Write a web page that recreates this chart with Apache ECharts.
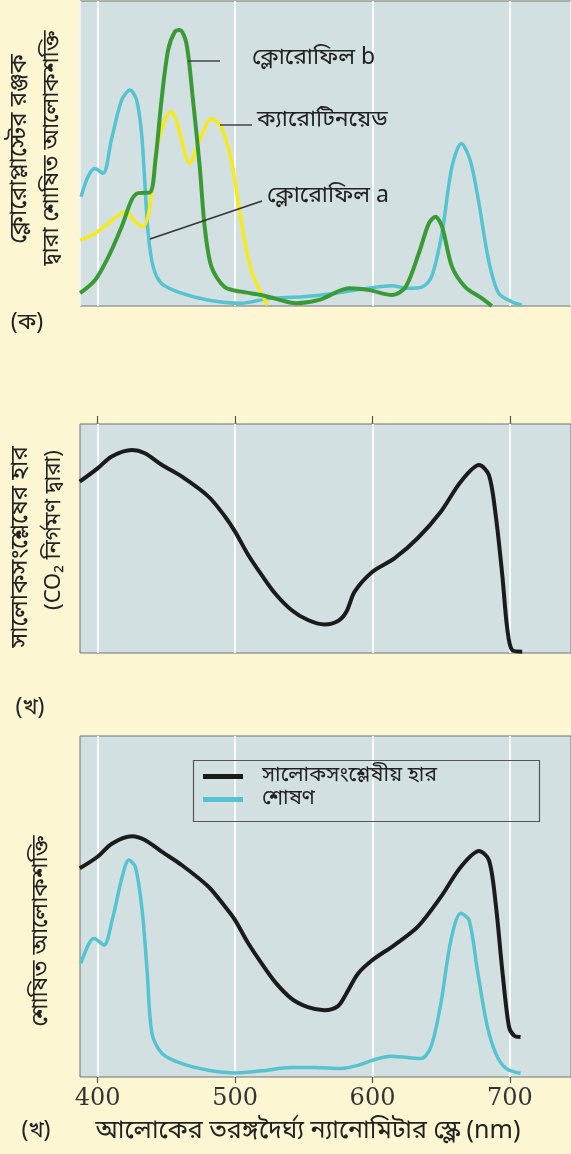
<!DOCTYPE html>
<html><head><meta charset="utf-8">
<script src="https://cdn.jsdelivr.net/npm/echarts@6/dist/echarts.min.js"></script>
<style>html,body{margin:0;padding:0;background:#fdf6d3;}#c{width:571px;height:1154px;}</style>
</head><body><div id="c"></div>
<script>
// ---- data (wavelength nm, relative value 0-100) ----
const xTicks = [400, 500, 600, 700];
const chlAWave = [388,393,398,404,410,417.5,423.6,428.4,432,434.4,436.8,440.4,446.5,461,480,504,525,549,573,597,614,626,636,643,650.5,657.8,664.6,671,677,684.4,691.7,701.3,708.6];
const chlAVal  = [35.8,42.4,45.1,43.5,54.4,67.5,70.8,67.5,56.6,40.2,23.8,12.9,7.4,4.2,2.0,0.9,2.5,3.0,4.2,5.8,6.6,5.8,6.2,9.6,23.8,45.7,53.3,47.9,34.8,15.1,4.2,1.4,0.3];
const chlBWave = [387.3,398.2,407.9,417.5,424.8,429.6,438,442.1,446.5,451.3,456.2,459.8,464.6,469.4,474.3,477.9,482.8,492.4,504.5,519,528.6,544.3,561.2,583,597.5,614.3,624,633.7,641,645.8,650.6,657.8,667.5,679.6,686.8];
const chlBVal  = [4.2,8.5,16.2,26.0,34.8,37.0,37.2,47.9,67.5,83.9,89.9,90.5,86.1,67.5,45.7,26.0,12.9,6.2,4.7,3.6,2.5,0.9,2.0,5.8,5.2,3.6,6.2,17.3,27.1,29.3,26.0,12.9,6.2,2.5,0];
const carWave  = [387.3,398.2,407.9,415.1,421.2,427.2,433.2,438,442.9,448.9,453.7,458.6,467,474.3,482.8,490,497.2,502,506.9,511.7,517.8,523.8];
const carVal   = [21.6,23.8,27.1,29.8,30.9,27.6,26.0,32.6,51.1,61.0,63.7,58.8,46.8,54.4,61.5,58.8,47.9,34.8,21.6,11.8,5.2,0.3];
const rateWave = [387,400,410,425,434.4,446.9,461.4,480.7,492.8,500,509.6,519.3,529,541,553,565,574.9,581,587,600,615.9,632.8,649.7,664.2,677.5,684.7,689.6,694.4,698,701.6,708.9];
const rateVal  = [74.8,80.6,85.7,88.6,87.2,82.1,77.0,68.3,59.5,53.0,42.8,34.1,26.1,18.8,14.4,12.5,14.0,18.0,26.8,35.5,41.3,50.1,61.7,74.8,82.1,77.7,60.3,34.1,10.8,1.3,0.6];
const rate3Wave = [387,400,410.6,425,434.4,446.9,461.4,480.7,492.8,500,509.6,519.3,529,541,553,565,574.9,581,589.4,600,615.9,632.8,649.7,664.2,677.5,684.7,689.6,694.4,699.3,702.9,707.7];
const rate3Val  = [61.2,64.6,68.5,70.6,69.5,66.0,62.1,55.8,49.9,46.0,39.2,33.3,27.9,23.0,20.5,19.6,20.8,24.5,30.3,34.3,38.7,44.0,52.8,61.6,66.3,63.6,50.9,31.3,14.7,12.2,11.7];
const absWave = [387.7,393.8,397.4,404.6,410.6,417.9,422.7,427.5,432.4,436,439.6,446.9,461.4,480.7,500,519.3,541,557.9,577.3,589.4,601.5,613.5,625.6,635.3,642.5,649.7,657,664.2,670.3,676.3,683.6,690.8,698,707.7];
const absVal  = [33.3,39.2,40.6,38.7,46.0,58.7,63.6,61.6,48.9,31.3,12.7,6.9,3.9,2.0,1.2,1.8,2.8,2.8,2.5,3.4,5.1,6.1,5.7,5.4,8.8,21.5,40.1,48.0,46.0,31.3,14.7,5.9,2.3,1.1];

const zip = (a, b) => a.map((x, i) => [x, b[i]]);
const BN = "'Noto Sans Bengali','Lohit Bengali','Noto Serif Bengali','Noto Sans',sans-serif";
const SERIF = "'DejaVu Serif',serif";
const XMIN = 387.2, XMAX = 744.4;

function xAx(idx, opts) {
  return Object.assign({
    type: 'value', gridIndex: idx, min: XMIN, max: XMAX,
    axisLine: {show: false, onZero: false},
    axisTick: {show: false},
    axisLabel: {show: false},
    splitLine: {show: true, lineStyle: {color: 'rgba(255,255,255,0.85)', width: 2}}
  }, opts);
}
function yAx(idx) {
  return {type: 'value', gridIndex: idx, min: 0, max: 100, show: true,
    axisLine: {show: false}, axisTick: {show: false}, axisLabel: {show: false}, splitLine: {show: false}};
}
const gridStyle = {show: true, backgroundColor: '#d3e0e2', borderColor: '#6e7476', borderWidth: 1, containLabel: false};
const CYAN = '#56c3d1', GREEN = '#3a9a36', YELLOW = '#f6ea1c', BLACK = '#1b1b1b';
const lineBase = {type: 'line', smooth: 0.3, showSymbol: false};
function mk(name, xi, wave, val, color, width, z) {
  return Object.assign({}, lineBase, {name: name, xAxisIndex: xi, yAxisIndex: xi, data: zip(wave, val),
    lineStyle: {color: color, width: width}, itemStyle: {color: color}, z: z || 2});
}

const chart = echarts.init(document.getElementById('c'));
chart.setOption({
  animation: false,
  backgroundColor: '#fdf6d3',
  grid: [
    Object.assign({left: 80, top: 1, width: 493, height: 305}, gridStyle),
    Object.assign({left: 80, top: 424, width: 493, height: 229}, gridStyle),
    Object.assign({left: 80, top: 736, width: 493, height: 341}, gridStyle)
  ],
  xAxis: [
    xAx(0, {}),
    xAx(1, {position: 'top', axisLine: {show: false, onZero: false},
      axisTick: {show: true, customValues: xTicks, length: 8, lineStyle: {color: '#555', width: 1.2}}}),
    xAx(2, {position: 'bottom', axisLine: {show: false, onZero: false},
      axisTick: {show: true, customValues: xTicks, length: 6, lineStyle: {color: '#555', width: 1.2}},
      axisLabel: {show: true, customValues: xTicks, margin: 10, fontFamily: SERIF, fontSize: 24, color: '#333',
        formatter: v => (v % 100 === 0 ? String(v) : '')}})
  ],
  yAxis: [yAx(0), yAx(1), yAx(2)],
  legend: {
    left: 203, top: 766, orient: 'vertical', icon: 'rect', itemWidth: 40, itemHeight: 5, itemGap: 2, padding: 0,
    data: ['সালোকসংশ্লেষীয় হার', 'শোষণ'],
    textStyle: {fontFamily: BN, fontSize: 21, color: '#222', padding: [0, 0, 0, 14]}
  },
  series: [
    mk('ক্লোরোফিল a', 0, chlAWave, chlAVal, CYAN, 3.5, 3),
    mk('ক্যারোটিনয়েড', 0, carWave, carVal, YELLOW, 3.5, 4),
    mk('ক্লোরোফিল b', 0, chlBWave, chlBVal, GREEN, 4, 5),
    mk('সালোকসংশ্লেষের হার', 1, rateWave, rateVal, BLACK, 4),
    mk('সালোকসংশ্লেষীয় হার', 2, rate3Wave, rate3Val, BLACK, 4),
    mk('শোষণ', 2, absWave, absVal, CYAN, 3.5)
  ],
  graphic: [
    // panel 1 annotations
    {type: 'line', shape: {x1: 188, y1: 61, x2: 220, y2: 61}, style: {stroke: '#444', lineWidth: 1.5}, z: 10},
    {type: 'text', x: 252, y: 60, style: {text: 'ক্লোরোফিল b', font: "23px " + BN, fill: '#222', textVerticalAlign: 'middle'}, z: 10},
    {type: 'line', shape: {x1: 220, y1: 125, x2: 252, y2: 125}, style: {stroke: '#444', lineWidth: 1.5}, z: 10},
    {type: 'text', x: 257, y: 122, style: {text: 'ক্যারোটিনয়েড', font: "23px " + BN, fill: '#222', textVerticalAlign: 'middle'}, z: 10},
    {type: 'line', shape: {x1: 150, y1: 239, x2: 262, y2: 201}, style: {stroke: '#333', lineWidth: 1.5}, z: 10},
    {type: 'text', x: 267, y: 198, style: {text: 'ক্লোরোফিল a', font: "23px " + BN, fill: '#222', textVerticalAlign: 'middle'}, z: 10},
    // y axis titles
    {type: 'text', x: 21, y: 149, rotation: Math.PI / 2, style: {text: 'ক্লোরোপ্লাস্টের রঞ্জক', font: "24px " + BN, fill: '#222', textAlign: 'center', textVerticalAlign: 'middle'}},
    {type: 'text', x: 54, y: 148, rotation: Math.PI / 2, style: {text: 'দ্বারা শোষিত আলোকশক্তি', font: "23px " + BN, fill: '#222', textAlign: 'center', textVerticalAlign: 'middle'}},
    {type: 'text', x: 22, y: 547, rotation: Math.PI / 2, style: {text: 'সালোকসংশ্লেষের হার', font: "24px " + BN, fill: '#222', textAlign: 'center', textVerticalAlign: 'middle'}},
    {type: 'text', x: 56, y: 530, rotation: Math.PI / 2, style: {text: '(CO₂ নির্গমণ দ্বারা)', font: "22px " + BN, fill: '#222', textAlign: 'center', textVerticalAlign: 'middle'}},
    {type: 'text', x: 43, y: 931, rotation: Math.PI / 2, style: {text: 'শোষিত আলোকশক্তি', font: "23px " + BN, fill: '#222', textAlign: 'center', textVerticalAlign: 'middle'}},
    // panel tags
    {type: 'text', x: 27, y: 325, style: {text: '(ক)', font: "23px " + BN, fill: '#222', textAlign: 'center', textVerticalAlign: 'middle'}},
    {type: 'text', x: 30, y: 710, style: {text: '(খ)', font: "23px " + BN, fill: '#222', textAlign: 'center', textVerticalAlign: 'middle'}},
    {type: 'text', x: 36, y: 1133, style: {text: '(খ)', font: "23px " + BN, fill: '#222', textAlign: 'center', textVerticalAlign: 'middle'}},
    // x axis title
    {type: 'text', x: 308, y: 1133, style: {text: 'আলোকের তরঙ্গদৈর্ঘ্য ন্যানোমিটার স্কেল (nm)', font: "25px " + BN, fill: '#222', textAlign: 'center', textVerticalAlign: 'middle'}},
    // legend box
    {type: 'rect', shape: {x: 193.5, y: 760.5, width: 346, height: 61}, style: {fill: 'none', stroke: '#555', lineWidth: 1.2}, z: 10}
  ]
});
</script></body></html>
